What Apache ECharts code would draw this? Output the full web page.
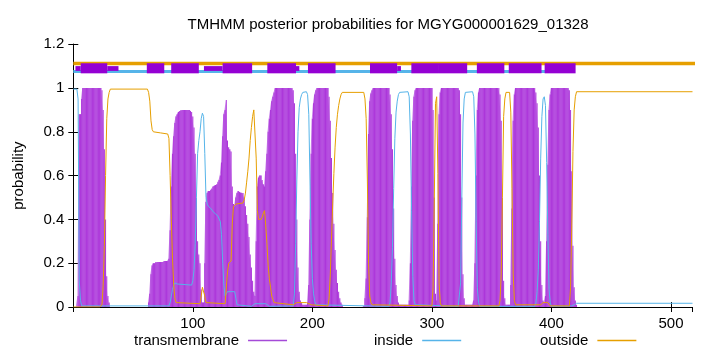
<!DOCTYPE html>
<html><head><meta charset="utf-8">
<script src="https://cdn.jsdelivr.net/npm/echarts@6/dist/echarts.min.js"></script>
<style>html,body{margin:0;padding:0;background:#fff}#c{width:720px;height:352px}</style>
</head><body><div id="c"></div>
<script>
const titleText = 'TMHMM posterior probabilities for MGYG000001629_01328';
const seriesNames = ['transmembrane', 'inside', 'outside'];
const yAxisName = 'probability';

// transmembrane posterior, one value per residue position (position = index)
const tmProb = [
  0, 0, 0, 0, 0.05, 0.88, 0.88, 0.95, 1, 1,
  1, 1, 1, 1, 1, 1, 1, 1, 1, 1,
  1, 1, 1, 1, 0.99, 0.9, 0.72, 0.4, 0.14, 0.05,
  0.02, 0, 0, 0, 0, 0, 0, 0, 0, 0,
  0, 0, 0, 0, 0, 0, 0, 0, 0, 0,
  0, 0, 0, 0, 0, 0, 0, 0, 0, 0,
  0, 0, 0, 0.02, 0.06, 0.15, 0.19, 0.2, 0.2, 0.205,
  0.205, 0.205, 0.205, 0.205, 0.205, 0.205, 0.21, 0.21, 0.21, 0.21,
  0.22, 0.35, 0.55, 0.7, 0.78, 0.84, 0.87, 0.88, 0.89, 0.895,
  0.9, 0.9, 0.9, 0.9, 0.9, 0.9, 0.9, 0.9, 0.895, 0.89,
  0.87, 0.82, 0.7, 0.5, 0.3, 0.24, 0.2, 0.08, 0.02, 0.02,
  0.2, 0.48, 0.52, 0.53, 0.53, 0.535, 0.54, 0.55, 0.555, 0.557,
  0.56, 0.57, 0.58, 0.6, 0.66, 0.78, 0.88, 0.9, 0.945, 0.76,
  0.73, 0.72, 0.71, 0.55, 0.47, 0.46, 0.5, 0.52, 0.53, 0.525,
  0.52, 0.52, 0.52, 0.5, 0.46, 0.42, 0.38, 0.32, 0.24, 0.18,
  0.12, 0.07, 0.05, 0.3, 0.55, 0.59, 0.6, 0.6, 0.58, 0.56,
  0.55, 0.62, 0.7, 0.8, 0.86, 0.9, 0.94, 0.96, 0.98, 1,
  1, 1, 1, 1, 1, 1, 1, 1, 1, 1,
  1, 1, 1, 1, 0.99, 0.93, 0.7, 0.4, 0.18, 0.07,
  0.03, 0.02, 0.01, 0.01, 0.01, 0.01, 0.02, 0.1, 0.4, 0.7,
  0.86, 0.93, 0.97, 0.99, 1, 1, 1, 1, 1, 1,
  1, 1, 1, 1, 0.96, 0.85, 0.68, 0.52, 0.38, 0.26,
  0.17, 0.11, 0.07, 0.04, 0.02, 0.01, 0, 0, 0, 0,
  0, 0, 0, 0, 0, 0, 0, 0, 0, 0,
  0, 0, 0, 0.005, 0.04, 0.13, 0.41, 0.79, 0.94, 0.975,
  0.99, 1, 1, 1, 1, 1, 1, 1, 1, 1,
  1, 1, 1, 1, 1, 0.97, 0.88, 0.72, 0.45, 0.22,
  0.1, 0.05, 0.02, 0.01, 0.01, 0.01, 0.01, 0.01, 0.01, 0.01,
  0.01, 0.03, 0.2, 0.55, 0.85, 0.96, 0.99, 1, 1, 1,
  1, 1, 1, 1, 1, 1, 1, 1, 1, 1,
  1, 0.9, 0.5, 0.06, 0.03, 0.38, 0.88, 0.98, 1, 1,
  1, 1, 1, 1, 1, 1, 1, 1, 1, 1,
  1, 1, 1, 0.99, 0.88, 0.5, 0.15, 0.04, 0.01, 0.01,
  0.01, 0.01, 0.01, 0.01, 0.01, 0.03, 0.2, 0.6, 0.9, 0.98,
  1, 1, 1, 1, 1, 1, 1, 1, 1, 1,
  1, 1, 1, 1, 1, 1, 1, 0.97, 0.85, 0.5,
  0.12, 0.04, 0.01, 0.01, 0.01, 0.01, 0.1, 0.45, 0.85, 0.97,
  1, 1, 1, 1, 1, 1, 1, 1, 1, 1,
  1, 1, 1, 1, 1, 1, 1, 0.98, 0.93, 0.82,
  0.6, 0.3, 0.1, 0.03, 0.02, 0.05, 0.3, 0.65, 0.9, 0.97,
  1, 1, 1, 1, 1, 1, 1, 1, 1, 1,
  1, 1, 1, 1, 1, 0.99, 0.9, 0.62, 0.28, 0.09,
  0.03, 0.01
];

// inside posterior [position, probability]
const insidePts = [
  [0, 0.995], [3, 0.995], [4, 0.95], [5, 0.12], [6, 0.03], [7, 0.005], [80, 0.005],
  [81, 0.02], [82, 0.05], [83, 0.08], [84, 0.1], [85, 0.11], [87, 0.105], [99, 0.1],
  [100, 0.12], [101, 0.17], [102, 0.29], [103, 0.5], [104, 0.7], [105, 0.76], [106, 0.8],
  [107, 0.86], [108, 0.885], [109, 0.87], [110, 0.7], [111, 0.5], [112, 0.47], [113, 0.46],
  [115, 0.45], [117, 0.435], [119, 0.425], [121, 0.415], [122, 0.41], [123, 0.39], [124, 0.33],
  [125, 0.2], [126, 0.1], [127, 0.05], [128, 0.06], [129, 0.07], [135, 0.07], [136, 0.04],
  [137, 0.01], [138, 0.003], [149, 0.003], [152, 0.015], [161, 0.015], [164, 0.003],
  [184, 0.005], [185, 0.06], [186, 0.29], [187, 0.58], [188, 0.8], [189, 0.91], [190, 0.95],
  [191, 0.97], [192, 0.98], [195, 0.983], [196, 0.97], [197, 0.88], [198, 0.58], [199, 0.29],
  [200, 0.13], [201, 0.06], [202, 0.025], [203, 0.01], [204, 0.003], [264, 0.003],
  [265, 0.02], [266, 0.11], [267, 0.27], [268, 0.54], [269, 0.77], [270, 0.89], [271, 0.94],
  [272, 0.97], [273, 0.98], [280, 0.983], [281, 0.96], [282, 0.79], [283, 0.44], [284, 0.14],
  [285, 0.03], [286, 0.01], [287, 0.003], [322, 0.003], [323, 0.01], [324, 0.11], [325, 0.49],
  [326, 0.84], [327, 0.95], [328, 0.98], [334, 0.983], [335, 0.96], [336, 0.79], [337, 0.39],
  [338, 0.09], [339, 0.02], [340, 0.003], [386, 0.003], [387, 0.02], [388, 0.07], [389, 0.17],
  [390, 0.39], [391, 0.68], [392, 0.87], [393, 0.95], [394, 0.96], [395, 0.92], [396, 0.66],
  [397, 0.33], [398, 0.08], [399, 0.02], [400, 0.003], [417, 0.005], [419, 0.01],
  [421, 0.017], [518, 0.017]
];

// outside posterior [position, probability]
const outsidePts = [
  [0, 0], [22, 0], [23, 0.005], [24, 0.01], [25, 0.1], [26, 0.28], [27, 0.6], [28, 0.86],
  [29, 0.95], [30, 0.98], [31, 0.995], [62, 0.995], [63, 0.98], [64, 0.94], [65, 0.85],
  [66, 0.81], [67, 0.8], [73, 0.795], [79, 0.79], [80, 0.77], [81, 0.6], [82, 0.4], [83, 0.22],
  [84, 0.1], [85, 0.04], [86, 0.02], [87, 0.015], [106, 0.015], [107, 0.05], [108, 0.09],
  [109, 0.09], [110, 0.05], [111, 0.02], [112, 0.015], [127, 0.015], [128, 0.02], [129, 0.16],
  [130, 0.2], [132, 0.21], [133, 0.38], [134, 0.46], [135, 0.465], [136, 0.47], [142, 0.475],
  [143, 0.49], [144, 0.52], [145, 0.57], [146, 0.62], [147, 0.68], [148, 0.76], [149, 0.82],
  [150, 0.87], [151, 0.9], [152, 0.907], [153, 0.68], [154, 0.44], [155, 0.4], [157, 0.4],
  [158, 0.41], [159, 0.43], [160, 0.44], [161, 0.37], [162, 0.29], [163, 0.19], [164, 0.13],
  [165, 0.09], [166, 0.05], [167, 0.035], [168, 0.02], [169, 0.015], [184, 0.01], [187, 0.02],
  [195, 0.02], [199, 0.01], [213, 0.005], [214, 0.04], [215, 0.15], [216, 0.31], [217, 0.47],
  [218, 0.61], [219, 0.73], [220, 0.82], [221, 0.88], [222, 0.92], [223, 0.95], [224, 0.97],
  [225, 0.98], [226, 0.983], [243, 0.98], [244, 0.95], [245, 0.86], [246, 0.58], [247, 0.2],
  [248, 0.05], [249, 0.02], [250, 0.01], [300, 0.005], [301, 0.09], [302, 0.49], [303, 0.93],
  [304, 0.96], [305, 0.61], [306, 0.11], [307, 0.02], [308, 0.005], [356, 0.005], [357, 0.03],
  [358, 0.15], [359, 0.5], [360, 0.87], [361, 0.95], [362, 0.98], [365, 0.98], [366, 0.89],
  [367, 0.54], [368, 0.15], [369, 0.03], [370, 0.01], [391, 0.01], [393, 0.02], [397, 0.02],
  [399, 0.005], [415, 0.005], [416, 0.09], [417, 0.37], [418, 0.71], [419, 0.9], [420, 0.96],
  [421, 0.983], [518, 0.983]
];

// predicted topology track drawn above the curves
const topOutsideTrack = [[0, 1.112], [545, 1.112]];
const topInsideTrack = [[0, 1.075], [397, 1.075]];
// helix segments: [start, end, kind] kind 0 = full box, 1 = narrow extension
const helixSpans = [
  [1.8, 6.2, 1], [6.2, 28.4, 0], [28.4, 37.8, 1], [61.5, 76.1, 0], [81.9, 105, 0],
  [109.3, 124.9, 1], [124.9, 149.6, 0], [162.3, 186.3, 0], [186.3, 189.1, 1], [196.3, 219.4, 0],
  [248.2, 270.9, 0], [270.9, 274.1, 1], [282.8, 305.9, 0], [305.9, 329.5, 0], [337.6, 360.6, 0],
  [364.3, 391.7, 0], [394.3, 420.2, 0]
];
const helixBands = [[1.067, 1.113], [1.078, 1.1]];

const xMin = 0, xMax = 518, xStep = 100;
const yMin = 0, yMax = 1.2, yStep = 0.2;

const FONT = 'Liberation Sans, Arial, sans-serif';
const C_TM = '#9400d3', C_IN = '#56b4e9', C_OUT = '#e69f00';
const C_TM_LIGHT = '#c983ea', C_TM_DARK = '#ac36da';

const chart = echarts.init(document.getElementById('c'), null, {renderer: 'canvas'});

const axisCommon = {
  type: 'value', min: xMin, max: xMax, interval: xStep,
  axisLine: {show: true, lineStyle: {color: '#000', width: 1}},
  axisTick: {show: true, inside: true, length: 5, lineStyle: {color: '#000'}},
  splitLine: {show: false}
};

const tmData = tmProb.map((v, i) => [i, v]);

chart.setOption({
  animation: false,
  backgroundColor: '#fff',
  title: {
    text: titleText, left: 383, top: 12, textAlign: 'center',
    textStyle: {fontFamily: FONT, fontSize: 15, fontWeight: 'normal', color: '#000'}
  },
  grid: {left: 73.3, right: 27.5, top: 44.2, bottom: 45, containLabel: false},
  xAxis: [
    Object.assign({}, axisCommon, {
      position: 'bottom',
      axisLabel: {show: true, margin: 9, fontFamily: FONT, fontSize: 15, color: '#000',
                  showMinLabel: false, showMaxLabel: false}
    }),
    Object.assign({}, axisCommon, {position: 'top', axisLabel: {show: false}})
  ],
  yAxis: [
    {
      type: 'value', min: yMin, max: yMax, interval: yStep, position: 'left',
      name: yAxisName, nameLocation: 'middle', nameGap: 47, nameRotate: 90,
      nameTextStyle: {fontFamily: FONT, fontSize: 15, color: '#000'},
      axisLine: {show: true, lineStyle: {color: '#000', width: 1}},
      axisTick: {show: true, inside: true, length: 5, lineStyle: {color: '#000'}},
      axisLabel: {margin: 9, fontFamily: FONT, fontSize: 15, color: '#000'},
      splitLine: {show: false}
    },
    {
      type: 'value', min: yMin, max: yMax, interval: yStep, position: 'right',
      axisLine: {show: true, lineStyle: {color: '#000', width: 1}},
      axisTick: {show: true, inside: true, length: 5, lineStyle: {color: '#000'}},
      axisLabel: {show: false}, splitLine: {show: false}
    }
  ],
  legend: [
    {data: [{name: seriesNames[0], icon: 'rect', itemStyle: {color: '#a54ad8'}}], left: 134, top: 333},
    {data: [{name: seriesNames[1], icon: 'rect', itemStyle: {color: C_IN}}], left: 374, top: 333},
    {data: [{name: seriesNames[2], icon: 'rect', itemStyle: {color: C_OUT}}], left: 540, top: 333}
  ].map(l => Object.assign(l, {
    orient: 'horizontal', align: 'right', itemWidth: 39, itemHeight: 1.4, itemGap: 0,
    selectedMode: false, padding: 0,
    textStyle: {fontFamily: FONT, fontSize: 15, color: '#000', padding: [0, 4, 0, 0]}
  })),
  series: [
    {
      name: 'tmFill', type: 'line', step: 'middle', data: tmData, showSymbol: false,
      lineStyle: {width: 0, color: C_TM_LIGHT}, areaStyle: {color: C_TM_LIGHT, opacity: 1},
      z: 1, silent: true
    },
    {
      name: seriesNames[0], type: 'bar', barWidth: 0.75, barGap: '-100%',
      data: tmData,
      itemStyle: {color: C_TM_DARK},
      z: 2
    },
    {
      name: seriesNames[1], type: 'line', data: insidePts, showSymbol: false,
      lineStyle: {color: C_IN, width: 1}, itemStyle: {color: C_IN}, z: 3
    },
    {
      name: seriesNames[2], type: 'line', data: outsidePts, showSymbol: false,
      lineStyle: {color: C_OUT, width: 1}, itemStyle: {color: C_OUT}, z: 4
    },
    {
      name: 'outsideTrack', type: 'line', data: topOutsideTrack, showSymbol: false, clip: false,
      lineStyle: {color: C_OUT, width: 3.5}, z: 5
    },
    {
      name: 'insideTrack', type: 'line', data: topInsideTrack, showSymbol: false,
      lineStyle: {color: C_IN, width: 3}, z: 5
    },
    {
      name: 'helixTrack', type: 'custom', z: 6,
      data: helixSpans,
      renderItem: (params, api) => {
        const band = helixBands[api.value(2)];
        const p0 = api.coord([api.value(0), band[1]]);
        const p1 = api.coord([api.value(1), band[0]]);
        return {type: 'rect', shape: {x: p0[0], y: p0[1], width: p1[0] - p0[0], height: p1[1] - p0[1]},
                style: {fill: C_TM}};
      }
    }
  ]
});
</script>
</body></html>
